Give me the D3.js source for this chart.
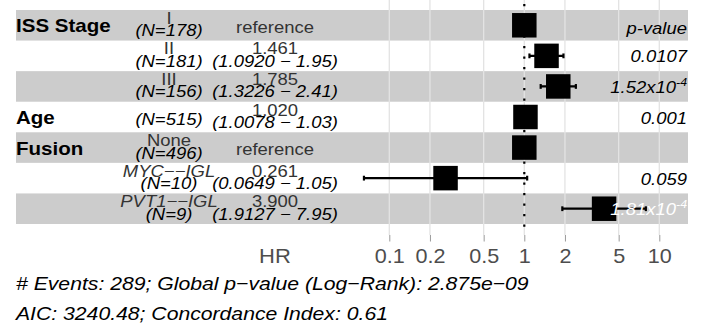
<!DOCTYPE html>
<html><head><meta charset="utf-8">
<script src="https://cdn.jsdelivr.net/npm/d3@7"></script>
<style>
html,body{margin:0;padding:0;background:#fff;}
svg{display:block;font-family:"Liberation Sans", Arial, Helvetica, sans-serif;}
</style></head><body>
<svg id="chart" width="706" height="325"></svg>
<script>
// ---- data ----
const variables   = ["ISS Stage", "", "", "Age", "Fusion", "", ""];
const levels      = ["I", "II", "III", "", "None", "MYC\u2212\u2212IGL", "PVT1\u2212\u2212IGL"];
const levelItalic = [false, false, false, false, false, true, true];
const nCounts     = [178, 181, 156, 515, 496, 10, 9];
const hrValues    = [1, 1.461, 1.785, 1.020, 1, 0.261, 3.900];
const isReference = [true, false, false, false, true, false, false];
const ciLow       = [null, 1.0920, 1.3226, 1.0078, null, 0.0649, 1.9127];
const ciHigh      = [null, 1.95, 2.41, 1.03, null, 1.05, 7.95];
const pMantissa   = ["", "0.0107", "1.52x10", "0.001", "", "0.059", "1.81x10"];
const pExponent   = [null, null, "-4", null, null, null, "-4"];
const pOnDark     = [false, false, false, false, false, false, true];
const pHeader     = "p-value";
const hrTicks     = [0.1, 0.2, 0.5, 1, 2, 5, 10];
const hrTitle     = "HR";
const footLines   = ["# Events: 289; Global p\u2212value (Log\u2212Rank): 2.875e\u221209",
                     "AIC: 3240.48; Concordance Index: 0.61"];

// ---- layout ----
const svg = d3.select("#chart");
const x = d3.scaleLog().domain([0.1, 10]).range([389.3, 659.3]);
const y = d3.scaleBand().domain(d3.range(levels.length)).range([10, 224]);
const bw = y.bandwidth();
const cy = i => y(i) + bw / 2;
const panelBottom = 235;
const colLevel = 169, colHR = 275, colP = 687, bandLeft = 16, bandRight = 688;
const LBL = 16.5, LSX = 1.12;

function txt(g, px, py, str, o) {
  const t = g.append("text")
    .attr("transform", `translate(${px},${py}) scale(${o.sx || 1},1)`)
    .attr("text-anchor", o.anchor || "middle")
    .style("font-size", o.size + "px")
    .style("font-style", o.italic ? "italic" : "normal")
    .style("font-weight", o.bold ? "bold" : "normal")
    .attr("fill", o.fill || "#000");
  t.text(str);
  return t;
}

// bands
svg.append("g").selectAll("rect")
  .data(d3.range(levels.length).filter(i => i % 2 === 0))
  .join("rect")
  .attr("x", bandLeft).attr("width", bandRight - bandLeft)
  .attr("y", i => y(i)).attr("height", bw)
  .attr("fill", "#cccccc");

// gridlines
svg.append("g").selectAll("line").data(hrTicks).join("line")
  .attr("x1", d => x(d)).attr("x2", d => x(d))
  .attr("y1", 0).attr("y2", panelBottom)
  .attr("stroke", "#e3e3e3").attr("stroke-width", 1.3);

// reference dotted line
svg.append("line")
  .attr("x1", x(1)).attr("x2", x(1)).attr("y1", 4).attr("y2", panelBottom)
  .attr("stroke", "#000").attr("stroke-width", 2.2).attr("stroke-dasharray", "2.2,8.3");

// error bars
const idxCI = d3.range(levels.length).filter(i => ciLow[i] != null);
const eb = svg.append("g").attr("stroke", "#000").attr("stroke-width", 2.2);
idxCI.forEach(i => {
  eb.append("line").attr("x1", x(ciLow[i])).attr("x2", x(ciHigh[i])).attr("y1", cy(i)).attr("y2", cy(i));
  [ciLow[i], ciHigh[i]].forEach(v => {
    eb.append("line").attr("x1", x(v)).attr("x2", x(v)).attr("y1", cy(i) - 2.4).attr("y2", cy(i) + 2.4);
  });
});

// squares
const sq = 24.5;
svg.append("g").selectAll("rect").data(d3.range(levels.length)).join("rect")
  .attr("x", i => x(hrValues[i]) - sq / 2).attr("y", i => cy(i) - sq / 2)
  .attr("width", sq).attr("height", sq).attr("fill", "#000");

// texts
const tg = svg.append("g");
d3.range(levels.length).forEach(i => {
  const c = cy(i);
  if (variables[i]) txt(tg, bandLeft, c + 7, variables[i], {anchor: "start", size: 18, sx: 1.14, bold: true});
  if (levels[i]) {
    txt(tg, colLevel, c - 1.5, levels[i], {size: LBL, sx: LSX, italic: levelItalic[i], fill: "#333"});
    txt(tg, colLevel, c + 11, `(N=${nCounts[i]})`, {size: LBL, sx: LSX, italic: true});
  } else {
    txt(tg, colLevel, c + 7.5, `(N=${nCounts[i]})`, {size: LBL, sx: LSX, italic: true});
  }
  if (isReference[i]) {
    txt(tg, colHR, c + 7.5, "reference", {size: LBL, sx: LSX, fill: "#333"});
  } else {
    txt(tg, colHR, c - 1.5, d3.format(".3f")(hrValues[i]), {size: LBL, sx: LSX, fill: "#333"});
    txt(tg, colHR, c + 11, `(${d3.format(".4f")(ciLow[i])} \u2212 ${d3.format(".2f")(ciHigh[i])})`, {size: LBL, sx: LSX, italic: true});
  }
  if (pMantissa[i]) {
    const t = txt(tg, colP, c + 6.5, pMantissa[i], {anchor: "end", size: LBL, sx: LSX, italic: true, fill: pOnDark[i] ? "#fff" : "#000"});
    if (pExponent[i]) t.append("tspan").attr("dy", -7).style("font-size", "11px").text(pExponent[i]);
  }
});
txt(tg, colP, cy(0) + 9, pHeader, {anchor: "end", size: LBL, sx: LSX, italic: true});

// axis
const axis = d3.axisBottom(x).tickValues(hrTicks).tickFormat(d3.format("~g")).tickSize(6.5);
const ag = svg.append("g").attr("transform", `translate(0,${panelBottom})`).call(axis);
ag.attr("font-size", null).attr("font-family", null);
ag.select(".domain").remove();
ag.selectAll(".tick line").attr("stroke", "#999").attr("stroke-width", 1);
ag.selectAll(".tick text").attr("y", 0).attr("dy", null)
  .attr("transform", "translate(0,28) scale(1.08,1)")
  .attr("fill", "#4d4d4d").style("font-size", "20px");
txt(svg, colHR, panelBottom + 28, hrTitle, {size: 20, sx: 1.1, fill: "#4d4d4d"});

// footer
footLines.forEach((s, k) => {
  txt(svg, 16, 290 + k * 29.5, s, {anchor: "start", size: 19, sx: 1.115, italic: true});
});
</script>
</body></html>
